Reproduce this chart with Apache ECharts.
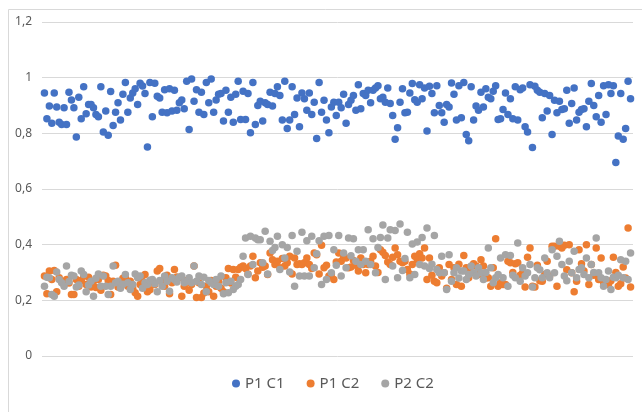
<!DOCTYPE html>
<html>
<head>
<meta charset="utf-8">
<script src="https://cdn.jsdelivr.net/npm/echarts@6/dist/echarts.min.js"></script>
<style>
  html, body { margin: 0; padding: 0; background: #fff; }
  #chart { width: 642px; height: 412px; }
</style>
</head>
<body>
<div id="chart"></div>
<script>
// series names + y ticks
const seriesNames = ['P1 C1', 'P1 C2', 'P2 C2'];
const yTicks = [0, 0.2, 0.4, 0.6, 0.8, 1, 1.2];

// P1 C1 (blue)
const p1c1 = [
  .945,.852,.898,.836,.945,.895,.84,.832,.892,.832,
  .948,.92,.892,.787,.93,.852,.967,.87,.904,.904,
  .892,.868,.86,.967,.805,.88,.793,.95,.828,.876,
  .91,.848,.94,.983,.876,.927,.945,.96,.904,.98,
  .97,.943,.751,.983,.86,.98,.933,.927,.876,.957,
  .874,.96,.88,.955,.883,.91,.92,.888,.987,.814,
  .995,.915,.957,.876,.948,.868,.983,.91,.995,.876,
  .92,.94,.943,.844,.955,.876,.93,.84,.94,
  .987,.85,.951,.85,.943,.802,.983,.832,.9,.915,
  .844,.91,.904,.948,.898,.943,.967,.936,.848,.987,
  .817,.848,.967,.868,.927,.824,.945,.924,.883,.945,
  .868,.912,.781,.983,.876,.919,.848,.802,.895,.912,
  .864,.912,.892,.94,.836,.904,.919,.936,.883,.975,
  .888,.943,.936,.955,.91,.955,.963,.971,.924,.93,
  .912,.963,.907,.864,.779,.82,.912,.96,.874,.876,
  .945,.979,.921,.912,.975,.924,.963,.808,.969,.943,
  .874,
  .971,.9,.874,.84,.904,.895,.981,.94,.848,.971,
  .856,.983,.796,.773,.967,.848,.898,.883,.948,.895,
  .96,.93,.924,.951,.971,.85,.852,.886,.945,.868,
  .924,.852,.967,.848,.957,.963,.824,.805,.975,.749,
  .969,.955,.948,.856,.943,.88,.936,.796,.919,.874,
  .915,.886,.888,.955,.836,.907,.963,.848,.876,.886,
  .888,.824,.915,.979,.9,.86,.936,.84,.971,.868,
  .975,.943,.971,.695,.79,.943,.779,.817,.987,.924
];

// P1 C2 (orange)
const p1c2 = [
  .287,.224,.305,.275,.307,.231,.281,.269,.257,.275,.262,
  .221,.221,.275,.251,.271,.287,.257,.283,.248,.269,.246,
  .275,.236,.29,.287,.271,.221,.269,.326,.248,.263,.279,
  .281,.251,.269,.243,.227,.215,.257,.269,.293,.231,.238,
  .269,.257,.305,.314,.269,.251,.29,.224,.263,.311,.284,
  .281,.215,.251,.271,.236,.257,.323,.21,.263,.21,.226,
  .251,.231,.271,.215,.251,.269,.243,.231,.281,.314,.262,
  .311,.283,.311,.319,.323,.314,.295,.323,.358,.281,.305,
  .335,.319,.323,.293,.37,.346,.329,.34,.317,.35,
  .323,.335,.358,.295,.352,.329,.331,.329,.335,.352,
  .329,.314,.37,.364,.295,.398,.317,.326,.287,.295,
  .275,.338,
  .37,.34,.355,.352,.317,.32,.343,.326,.305,.352,.329,
  .299,.329,.34,.358,.323,.30,.382,.373,.361,.338,.329,
  .355,.388,.364,.34,.335,.34,.311,.295,.329,.358,.346,
  .367,.352,.388,.275,.352,.29,.269,.263,.317,.287,.299,
  .243,.329,.275,.317,.257,.33,.251,.361,.317,.281,.299,
  .331,.323,.293,.346,.323,.28,.281,.251,.317,.421,.251,
  .263,.257,.257,.34,.335,.30,.331,.335,.29,.299,.248,
  .355,.388,.251,.248,.326,.27,.269,.293,.34,.287,.394,
  .394,.251,.394,.388,.398,.31,.4,.299,.231,.269,.382,
  .331,.305,.4,.257,.329,.29,.388,.275,.352,.263,.263,
  .257,.27,.355,.30,.251,.26,.32,.28,.46,.248
];

// P2 C2 (grey)
const p2c2 = [
  .251,.283,.281,.221,.215,.302,.275,.263,.251,.323,.268,
  .29,.287,.248,.255,.305,.293,.231,.255,.269,.215,.279,
  .295,.251,.287,.251,.221,.251,.323,.263,.269,.243,.258,
  .293,.263,.239,.257,.295,.281,.287,.243,.263,.257,.272,
  .275,.26,.231,.271,.251,.287,.269,.233,.281,.275,.266,
  .283,.287,.263,.269,.281,.263,.323,.269,.287,.257,
  .283,.231,.271,.263,.257,.275,.251,.287,.224,.263,
  .227,.269,.239,.251,.257,.275,.358,.424,.293,.43,
  .329,.424,.418,.418,.335,.448,.295,.412,.379,.39,
  .43,.311,.4,.352,.39,.302,.433,.251,.376,.287,
  .445,.287,.414,.287,.43,.317,.367,.414,.257,.43,
  .275,.433,.299,.382,.326,
  .433,.287,.37,.317,.424,.36,.421,.34,.382,.329,.382,
  .34,.454,.329,.421,.299,.39,.426,.471,.275,.424,.454,
  .323,.451,.281,.474,.307,.35,.445,.281,.402,.293,.41,
  .329,.426,.323,.46,.314,.33,.433,.311,.299,.358,.299,
  .239,.364,.269,.299,.317,.28,.305,.305,.275,.293,.323,
  .299,.287,.317,.299,.275,.30,.388,.317,.263,.281,.293,
  .352,.281,.364,.251,.361,.29,.281,.406,.269,.317,.287,
  .299,.329,.248,.281,.317,.31,.281,.352,.299,.281,.382,
  .299,.358,.412,.329,.287,.27,.34,.299,.376,.281,.311,
  .317,.293,.352,.281,.329,.30,.424,.299,.281,.251,.275,
  .305,.239,.283,.281,.29,.346,.281,.34,.275,.37
];

const colors = ['#4472C4', '#ED7D31', '#A5A5A5'];

const chart = echarts.init(document.getElementById('chart'));
const allSeries = [p1c1, p1c2, p2c2];
const n = Math.max(p1c1.length, p1c2.length, p2c2.length);

let option = {
  animation: false,
  color: colors,
  graphic: [{
    type: 'rect',
    left: 6, top: 7,
    shape: { width: 640, height: 404 },
    style: { fill: 'none', stroke: '#d9d9d9', lineWidth: 1 },
    silent: true
  }],
  legend: {
    data: seriesNames,
    left: 227,
    top: 371,
    icon: 'circle',
    itemWidth: 8,
    itemHeight: 8,
    itemGap: 22,
    textStyle: { color: '#595959', fontSize: 15, fontFamily: 'Noto Sans' }
  },
  grid: {
    left: 42,
    right: 9,
    top: 22,
    bottom: 56
  },
  xAxis: {
    type: 'value',
    min: 0,
    max: n + 1,
    show: false,
    splitLine: { show: false }
  },
  yAxis: {
    type: 'value',
    min: yTicks[0],
    max: yTicks[yTicks.length - 1],
    interval: 0.2,
    axisLine: { show: false },
    axisTick: { show: false },
    axisLabel: {
      color: '#595959',
      fontSize: 12,
      fontFamily: 'Noto Sans',
      margin: 10,
      formatter: function (v) {
        return String(+v.toFixed(1)).replace('.', ',');
      }
    },
    splitLine: { lineStyle: { color: '#d9d9d9', width: 1 } }
  },
  // x is just the sample number
  series: allSeries.map((arr, k) => ({
    name: seriesNames[k],
    type: 'scatter',
    symbol: 'circle',
    symbolSize: 7.5,
    itemStyle: { opacity: 1 },
    data: arr.map((v, i) => [i + 1, v])
  }))
};
chart.setOption(option);
</script>
</body>
</html>
